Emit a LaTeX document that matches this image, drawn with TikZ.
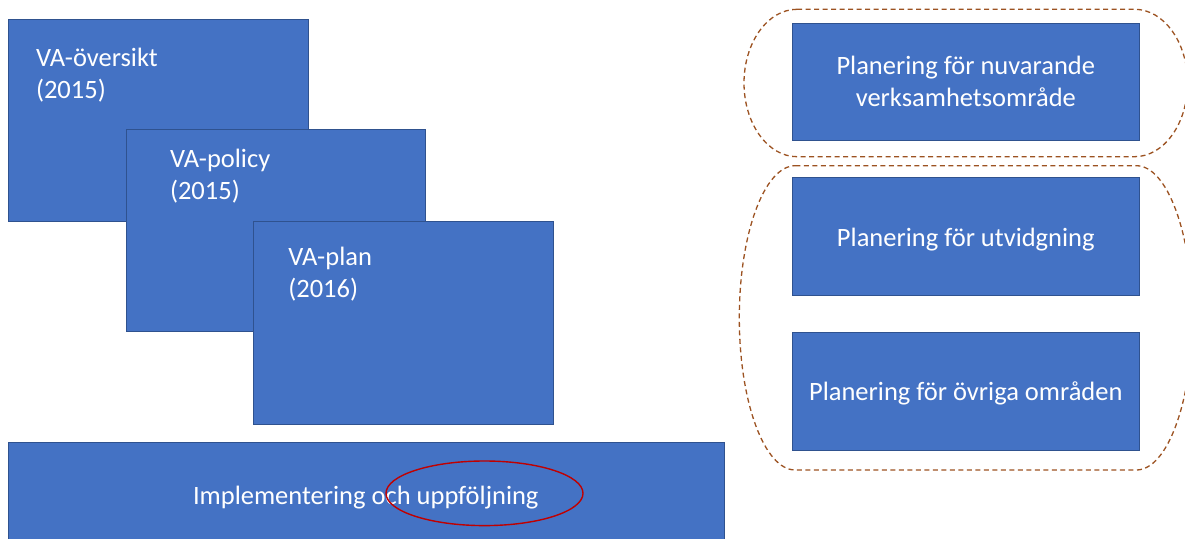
\documentclass[tikz,border=0pt]{standalone}
\usepackage{fontspec}
\setmainfont{Carlito}
\definecolor{boxfill}{HTML}{4472C4}
\definecolor{boxline}{HTML}{2F528F}
\definecolor{dashbrown}{HTML}{9C5221}
\definecolor{markred}{HTML}{C00000}
\begin{document}
\begin{tikzpicture}[x=1pt,y=1pt,
  bluebox/.style={draw=boxline, fill=boxfill, line width=1pt, rectangle, anchor=north west, inner sep=0pt, outer sep=0pt},
  lbl/.style={text=white, font=\fontsize{26.5}{32}\selectfont, inner sep=0pt, outer sep=0pt},
  groupline/.style={draw=dashbrown, line width=1.3pt, dash pattern=on 5pt off 3.5pt},
  ring/.style={draw=markred, line width=1.4pt}]
\useasboundingbox (0,0) rectangle (1185,-538);
% left stacked boxes
\node[bluebox, minimum width=300pt, minimum height=202.7pt] (b1) at (8.3,-19) {};
\node[lbl, anchor=north west, align=left] (t1) at (36,-43.6) {\strut VA-översikt\\(2015)};
\node[bluebox, minimum width=299pt, minimum height=202.4pt] (b2) at (126.7,-129.3) {};
\node[lbl, anchor=north west, align=left] (t2) at (170,-144.9) {\strut VA-policy\\(2015)};
\node[bluebox, minimum width=300pt, minimum height=202.3pt] (b3) at (253.3,-221.7) {};
\node[lbl, anchor=north west, align=left] (t3) at (288.3,-242.6) {\strut VA-plan\\(2016)};
% bottom box
\node[bluebox, minimum width=715.7pt, minimum height=100pt] (bot) at (8.3,-442.3) {};
\node[lbl, anchor=base] (tbot) at (365.8,-504) {Implementering och uppföljning};
% right boxes
\node[bluebox, minimum width=347pt, minimum height=117.3pt] (r1) at (792.3,-23) {};
\node[lbl, anchor=north, align=center] (tr1) at (965.8,-51.6) {\strut Planering för nuvarande\\verksamhetsområde};
\node[bluebox, minimum width=347pt, minimum height=117.7pt] (r2) at (792.3,-177.3) {};
\node[lbl, anchor=base] (tr2) at (965.8,-246) {Planering för utvidgning};
\node[bluebox, minimum width=347pt, minimum height=118pt] (r3) at (792.3,-332) {};
\node[lbl, anchor=base] (tr3) at (965.8,-400) {Planering för övriga områden};
% dashed groups
\draw[groupline] (797,-9.3) -- (1134.6,-9.3)
  arc[start angle=90, end angle=-90, x radius=53, y radius=73.7]
  -- (797,-156.7)
  arc[start angle=270, end angle=90, x radius=53, y radius=73.7] -- cycle;
\draw[groupline] (795.3,-165.7) -- (1136.3,-165.7)
  arc[start angle=90, end angle=-90, x radius=56, y radius=152.15]
  -- (795.3,-470)
  arc[start angle=270, end angle=90, x radius=56, y radius=152.15] -- cycle;
% red mark
\draw[ring] (484.5,-493.3) ellipse [x radius=98.5, y radius=32.3];
\end{tikzpicture}
\end{document}
